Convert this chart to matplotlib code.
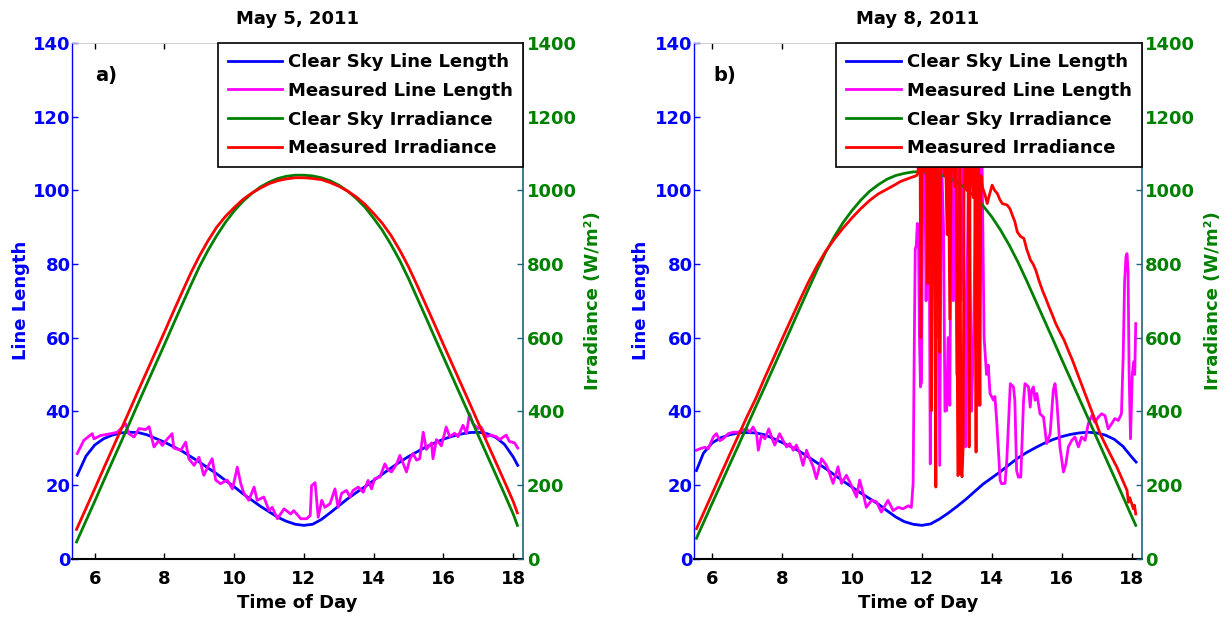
import matplotlib
matplotlib.use("Agg")
import matplotlib.pyplot as plt

plt.rcParams['font.family'] = ['DejaVu Sans']
plt.rcParams['font.weight'] = 'bold'

# ---------------- data: May 5, 2011 ----------------
T5_CLEAR = [5.5, 5.75, 6.0, 6.25, 6.5, 6.75, 7.0, 7.25, 7.5, 7.75,
            8.0, 8.25, 8.5, 8.75, 9.0, 9.25, 9.5, 9.75, 10.0, 10.25,
            10.5, 10.75, 11.0, 11.25, 11.5, 11.75, 12.0, 12.25, 12.5, 12.75,
            13.0, 13.25, 13.5, 13.75, 14.0, 14.25, 14.5, 14.75, 15.0, 15.25,
            15.5, 15.75, 16.0, 16.25, 16.5, 16.75, 17.0, 17.25, 17.5, 17.75,
            18.0, 18.13]
LL5_CLEAR = [22.6, 27.8, 30.8, 32.5, 33.5, 34.1, 34.3, 34.2, 33.6, 32.6,
             31.6, 30.4, 29.2, 27.7, 26.2, 24.6, 23.0, 21.2, 19.5, 17.6,
             15.9, 14.2, 12.7, 11.2, 10.1, 9.3, 9.0, 9.3, 10.6, 12.4,
             14.3, 16.2, 17.9, 19.5, 21.2, 22.9, 24.6, 26.2, 27.7, 29.0,
             30.3, 31.4, 32.4, 33.2, 33.8, 34.2, 34.3, 33.9, 32.9, 31.0,
             27.6, 25.3]

T5_MEAS = [5.50, 5.69, 5.93, 5.98, 6.17, 6.46, 6.65, 6.89, 6.98, 7.13,
           7.27, 7.46, 7.56, 7.70, 7.84, 7.94, 8.04, 8.22, 8.27, 8.47,
           8.61, 8.70, 8.85, 8.99, 9.13, 9.28, 9.37, 9.47, 9.61, 9.80,
           9.95, 10.09, 10.19, 10.28, 10.42, 10.57, 10.66, 10.85, 11.00, 11.09,
           11.24, 11.43, 11.62, 11.71, 11.91, 12.08, 12.18, 12.22, 12.32, 12.41,
           12.51, 12.60, 12.75, 12.89, 12.98, 13.08, 13.22, 13.32, 13.41, 13.56,
           13.70, 13.84, 13.94, 14.03, 14.18, 14.32, 14.42, 14.51, 14.66, 14.75,
           14.85, 14.94, 15.04, 15.13, 15.23, 15.32, 15.42, 15.51, 15.66, 15.70,
           15.80, 15.94, 16.08, 16.18, 16.32, 16.42, 16.56, 16.66, 16.75, 16.85,
           16.99, 17.08, 17.23, 17.37, 17.51, 17.61, 17.80, 17.89, 18.04, 18.13]
LL5_MEAS = [28.5, 32.1, 33.9, 32.5, 33.4, 33.9, 34.3, 36.6, 33.9, 33.0,
            35.3, 35.0, 35.8, 30.3, 32.0, 30.7, 32.0, 33.9, 30.0, 29.4,
            31.6, 27.1, 25.3, 27.5, 22.6, 25.6, 27.1, 21.3, 20.3, 21.3,
            18.9, 24.8, 20.3, 17.7, 15.8, 19.4, 15.8, 16.7, 13.0, 13.9,
            10.8, 13.5, 12.1, 13.0, 10.8, 10.8, 11.7, 19.8, 20.6, 11.2,
            15.8, 13.9, 14.9, 18.9, 13.9, 17.7, 18.5, 16.7, 18.5, 19.4,
            18.0, 21.2, 18.9, 21.7, 22.1, 25.7, 24.0, 23.5, 25.7, 28.0,
            25.7, 23.5, 27.1, 28.5, 26.7, 27.1, 34.3, 29.6, 31.4, 27.1,
            32.3, 30.6, 35.7, 33.1, 34.0, 33.1, 36.2, 34.0, 39.3, 36.6,
            35.3, 35.7, 33.1, 33.5, 33.1, 32.3, 33.5, 31.8, 31.4, 30.0]

T5_IRR = [5.48, 5.75, 6.0, 6.25, 6.5, 6.75, 7.0, 7.25, 7.5, 7.75,
          8.0, 8.25, 8.5, 8.75, 9.0, 9.25, 9.5, 9.75, 10.0, 10.25,
          10.5, 10.75, 11.0, 11.25, 11.5, 11.75, 12.0, 12.25, 12.5, 12.75,
          13.0, 13.25, 13.5, 13.75, 14.0, 14.25, 14.5, 14.75, 15.0, 15.25,
          15.5, 15.75, 16.0, 16.25, 16.5, 16.75, 17.0, 17.25, 17.5, 17.75,
          18.0, 18.12]
IRR5_CLEAR = [45, 102, 155, 209, 262, 315, 368, 422, 475, 528,
              581, 635, 688, 741, 792, 837, 877, 913, 944, 970,
              991, 1009, 1022, 1032, 1038, 1041, 1041, 1039, 1034, 1026,
              1014, 998, 978, 954, 924, 891, 852, 809, 760, 707,
              654, 600, 547, 494, 441, 388, 334, 281, 228, 175,
              121, 90]
IRR5_MEAS = [79, 136, 189, 243, 296, 349, 402, 456, 509, 562,
             615, 669, 722, 774, 821, 863, 900, 929, 953, 975,
             992, 1006, 1018, 1026, 1031, 1034, 1034, 1032, 1029, 1021,
             1011, 998, 982, 962, 937, 910, 877, 837, 792, 741,
             688, 635, 581, 528, 475, 422, 368, 315, 262, 209,
             155, 124]

# ---------------- data: May 8, 2011 ----------------
T8_CLEAR = [5.55, 5.75, 6.0, 6.25, 6.5, 6.75, 7.0, 7.25, 7.5, 7.75,
            8.0, 8.25, 8.5, 8.75, 9.0, 9.25, 9.5, 9.75, 10.0, 10.25,
            10.5, 10.75, 11.0, 11.25, 11.5, 11.75, 12.0, 12.25, 12.5, 12.75,
            13.0, 13.25, 13.5, 13.75, 14.0, 14.25, 14.5, 14.75, 15.0, 15.25,
            15.5, 15.75, 16.0, 16.25, 16.5, 16.75, 17.0, 17.25, 17.5, 17.75,
            18.0, 18.13]
LL8_CLEAR = [23.9, 28.6, 31.4, 32.8, 33.6, 34.1, 34.2, 34.1, 33.6, 32.6,
             31.5, 30.4, 29.1, 27.6, 26.0, 24.4, 22.7, 21.0, 19.4, 17.8,
             16.3, 14.8, 13.0, 11.3, 10.0, 9.3, 9.0, 9.4, 10.7, 12.3,
             14.1, 16.0, 18.1, 20.2, 21.9, 23.6, 25.5, 27.3, 28.8, 30.1,
             31.3, 32.3, 33.1, 33.7, 34.1, 34.3, 34.1, 33.5, 32.4, 30.5,
             27.6, 26.2]

T8_MEAS = [5.55, 5.65, 5.79, 5.89, 6.03, 6.12, 6.22, 6.31, 6.46, 6.60,
           6.75, 6.84, 6.98, 7.08, 7.17, 7.27, 7.32, 7.41, 7.51, 7.62,
           7.72, 7.79, 7.93, 8.03, 8.13, 8.22, 8.32, 8.41, 8.51, 8.60,
           8.70, 8.79, 8.89, 8.98, 9.13, 9.27, 9.36, 9.46, 9.60, 9.70,
           9.84, 9.98, 10.13, 10.22, 10.32, 10.41, 10.56, 10.70, 10.84, 11.03,
           11.18, 11.32, 11.46, 11.61, 11.70, 11.75, 11.78, 11.81, 11.84, 11.87,
           11.90, 11.93, 11.96, 11.99, 12.03, 12.08, 12.12, 12.16, 12.20, 12.24,
           12.27, 12.32, 12.38, 12.42, 12.47, 12.51, 12.56, 12.62, 12.66, 12.71,
           12.75, 12.80, 12.84, 12.90, 12.95, 13.00, 13.05, 13.12, 13.18, 13.25,
           13.30, 13.35, 13.42, 13.48, 13.55, 13.61, 13.66, 13.72, 13.78, 13.85,
           13.90, 13.95, 14.05, 14.09, 14.14, 14.19, 14.24, 14.28, 14.38, 14.43,
           14.53, 14.62, 14.66, 14.71, 14.76, 14.83, 14.91, 14.95, 15.05, 15.10,
           15.14, 15.19, 15.24, 15.29, 15.38, 15.48, 15.57, 15.67, 15.76, 15.81,
           15.86, 15.95, 16.05, 16.12, 16.19, 16.29, 16.38, 16.48, 16.57, 16.67,
           16.76, 16.86, 16.95, 17.05, 17.14, 17.24, 17.33, 17.43, 17.52, 17.62,
           17.71, 17.76, 17.80, 17.84, 17.87, 17.90, 17.93, 17.97, 18.02, 18.06,
           18.09, 18.12]
LL8_MEAS = [29.4, 29.8, 30.2, 29.8, 33.0, 33.9, 32.0, 32.5, 33.9, 34.3,
            34.3, 34.8, 35.2, 34.3, 35.7, 33.9, 29.4, 33.5, 32.5, 35.2,
            32.5, 30.8, 33.9, 32.0, 30.3, 31.2, 29.4, 30.8, 28.5, 25.3,
            29.4, 27.1, 24.9, 21.7, 27.1, 25.3, 23.1, 20.4, 24.9, 20.4,
            22.6, 19.9, 16.7, 21.3, 17.7, 13.9, 15.8, 15.4, 12.6, 15.8,
            13.0, 13.9, 13.5, 14.3, 13.9, 20.4, 55.0, 84.0, 85.0, 91.0,
            90.0, 60.0, 46.6, 48.0, 110.0, 110.0, 70.0, 100.0, 110.0, 25.7,
            80.0, 110.0, 110.0, 60.0, 110.0, 25.3, 110.0, 90.0, 40.0, 40.2,
            60.0, 41.6, 110.0, 70.0, 110.0, 50.0, 110.0, 70.0, 110.0, 30.3,
            80.0, 110.0, 40.0, 60.0, 110.0, 41.6, 110.0, 110.0, 60.0, 50.0,
            52.5, 44.8, 43.0, 44.0, 37.5, 29.4, 21.2, 20.3, 20.4, 26.6,
            47.5, 46.6, 43.0, 23.9, 22.1, 22.1, 43.0, 47.5, 46.6, 41.1,
            45.7, 46.6, 43.0, 44.8, 39.3, 38.4, 31.2, 33.9, 45.7, 47.5,
            43.0, 30.3, 23.5, 25.7, 30.3, 32.1, 33.0, 30.3, 33.0, 32.1,
            36.6, 38.8, 37.0, 38.4, 39.3, 38.8, 35.2, 36.6, 38.0, 37.5,
            39.3, 55.0, 75.0, 82.0, 82.8, 78.0, 50.0, 32.5, 50.0, 53.4,
            50.0, 63.8]

T8_IRR_CLEAR = [5.55, 5.75, 6.0, 6.25, 6.5, 6.75, 7.0, 7.25, 7.5, 7.75,
                8.0, 8.25, 8.5, 8.75, 9.0, 9.25, 9.5, 9.75, 10.0, 10.25,
                10.5, 10.75, 11.0, 11.25, 11.5, 11.75, 12.0, 12.25, 12.5, 12.75,
                13.0, 13.25, 13.5, 13.75, 14.0, 14.25, 14.5, 14.75, 15.0, 15.25,
                15.5, 15.75, 16.0, 16.25, 16.5, 16.75, 17.0, 17.25, 17.5, 17.75,
                18.0, 18.12]
IRR8_CLEAR = [55, 97, 150, 202, 255, 307, 360, 413, 465, 518,
              571, 624, 678, 731, 783, 832, 875, 913, 945, 973,
              997, 1015, 1030, 1040, 1046, 1050, 1050, 1048, 1043, 1035,
              1022, 1005, 984, 958, 928, 892, 851, 805, 754, 701,
              648, 595, 541, 488, 435, 382, 328, 275, 222, 169,
              115, 90]

T8_IRR_MEAS = [5.55, 5.75, 6.0, 6.25, 6.5, 6.75, 7.0, 7.25, 7.5, 7.75,
               8.0, 8.25, 8.5, 8.75, 9.0, 9.25, 9.5, 9.75, 10.0, 10.25,
               10.5, 10.75, 11.0, 11.25, 11.37, 11.5, 11.7, 11.85, 11.88, 11.92,
               11.95, 11.97, 12.00, 12.04, 12.07, 12.11, 12.14, 12.17, 12.20, 12.24,
               12.28, 12.31, 12.36, 12.40, 12.43, 12.47, 12.51, 12.54, 12.60, 12.64,
               12.68, 12.72, 12.76, 12.80, 12.84, 12.90, 12.94, 12.98, 13.03, 13.06,
               13.09, 13.12, 13.15, 13.18, 13.21, 13.25, 13.29, 13.32, 13.35, 13.38,
               13.43, 13.47, 13.51, 13.55, 13.58, 13.62, 13.66, 13.69, 13.73, 13.80,
               13.87, 13.94, 14.01, 14.08, 14.16, 14.23, 14.30, 14.44, 14.52, 14.59,
               14.66, 14.73, 14.82, 14.92, 15.00, 15.11, 15.18, 15.26, 15.35, 15.45,
               15.55, 15.64, 15.74, 15.83, 15.95, 16.07, 16.19, 16.31, 16.50, 16.70,
               16.90, 17.10, 17.30, 17.45, 17.58, 17.70, 17.87, 17.91, 17.95, 18.00,
               18.05, 18.08, 18.12]
IRR8_MEAS = [81, 123, 176, 229, 282, 334, 386, 435, 490, 543,
             596, 648, 700, 750, 795, 835, 868, 898, 925, 950,
             972, 990, 1003, 1016, 1023, 1028, 1035, 1040, 1045, 1085,
             1085, 600, 1085, 1050, 1085, 1085, 1000, 747, 1085, 1085,
             402, 1085, 1085, 194, 1085, 1030, 560, 1085, 1085, 1040,
             1085, 880, 1085, 650, 1085, 1085, 1010, 1085, 225, 230,
             1085, 240, 222, 302, 1085, 1085, 1000, 1085, 303, 1085,
             1085, 980, 1085, 289, 1085, 1085, 416, 1040, 1009, 990,
             964, 990, 1014, 1000, 991, 975, 964, 960, 950, 932,
             915, 887, 875, 869, 840, 810, 800, 783, 755, 728,
             705, 683, 660, 638, 615, 593, 565, 538, 490, 440,
             390, 339, 300, 272, 248, 222, 185, 153, 165, 150,
             135, 145, 121]

XTICKS = [6, 8, 10, 12, 14, 16, 18]
YTICKS_LL = [0, 20, 40, 60, 80, 100, 120, 140]
YTICKS_IRR = [0, 200, 400, 600, 800, 1000, 1200, 1400]
LABELS = ['Clear Sky Line Length', 'Measured Line Length',
          'Clear Sky Irradiance', 'Measured Irradiance']

BLUE = '#0000ff'
MAGENTA = '#ff00ff'
GREEN = '#008000'
RED = '#ff0000'
TEAL = '#24607a'
FS = 13

fig = plt.figure(figsize=(12.28, 6.17), dpi=100)


def panel(rect, xlim, title, tag, tag_x, ylab_left_x, ylab_right_x,
          t_cl, ll_cl, t_ml, ll_ml, t_ci, irr_ci, t_mi, irr_mi):
    ax1 = fig.add_axes(rect)
    ax2 = ax1.twinx()
    h1, = ax1.plot(t_cl, ll_cl, color=BLUE, lw=2)
    h2, = ax1.plot(t_ml, ll_ml, color=MAGENTA, lw=2)
    h3, = ax2.plot(t_ci, irr_ci, color=GREEN, lw=2)
    h4, = ax2.plot(t_mi, irr_mi, color=RED, lw=2)

    ax1.set_xlim(*xlim)
    ax1.set_ylim(0, 140)
    ax2.set_ylim(0, 1400)
    ax1.set_xticks(XTICKS)
    ax1.set_yticks(YTICKS_LL)
    ax2.set_yticks(YTICKS_IRR)

    ax1.tick_params(axis='x', direction='in', length=4, width=1, colors='black',
                    top=True, labelsize=FS, pad=8.5)
    ax1.tick_params(axis='y', direction='in', length=4, width=1, color=BLUE,
                    labelcolor=BLUE, labelsize=FS, pad=1)
    ax2.tick_params(axis='y', direction='in', length=4, width=1, color=TEAL,
                    labelcolor=GREEN, labelsize=FS, pad=2.5)

    ax1.spines['left'].set_color(BLUE)
    ax1.spines['left'].set_linewidth(1.0)
    ax1.spines['right'].set_visible(False)
    ax1.spines['top'].set_color('#c8c8c8')
    ax1.spines['top'].set_linewidth(0.6)
    ax1.spines['bottom'].set_color('black')
    ax1.spines['bottom'].set_linewidth(1.5)
    for s in ('left', 'top', 'bottom'):
        ax2.spines[s].set_visible(False)
    ax2.spines['right'].set_color(TEAL)
    ax2.spines['right'].set_linewidth(1.2)

    ax1.set_title(title, fontsize=FS, fontweight='bold', pad=14)
    ax1.set_xlabel('Time of Day', fontsize=FS, fontweight='bold', labelpad=4)
    ax1.set_ylabel('Line Length', fontsize=FS, fontweight='bold', color=BLUE, va='center')
    ax1.yaxis.set_label_coords(ylab_left_x, 0.5)
    ax2.set_ylabel('Irradiance (W/m²)', fontsize=FS, fontweight='bold', color=GREEN,
                   va='center')
    ax2.yaxis.set_label_coords(ylab_right_x, 0.5)

    ax1.text(tag_x, 0.936, tag, transform=ax1.transAxes, fontsize=14,
             fontweight='bold', ha='left', va='center')

    leg = ax2.legend([h1, h2, h3, h4], LABELS, loc='upper right',
                     bbox_to_anchor=(1.0, 1.0), borderaxespad=0.0,
                     fancybox=False, framealpha=1.0, edgecolor='black',
                     prop={'size': FS, 'weight': 'bold'}, handlelength=3.0,
                     handletextpad=0.35, borderpad=0.55, labelspacing=0.6)
    leg.get_frame().set_linewidth(1.2)
    return ax1, ax2


panel([0.05863, 0.09481, 0.36751, 0.83549], (5.35, 18.29), 'May 5, 2011', 'a)', 0.051,
      -0.1134, 1.1536,
      T5_CLEAR, LL5_CLEAR, T5_MEAS, LL5_MEAS, T5_IRR, IRR5_CLEAR, T5_IRR, IRR5_MEAS)
panel([0.56515, 0.09481, 0.36458, 0.83549], (5.48, 18.29), 'May 8, 2011', 'b)', 0.044,
      -0.119, 1.160,
      T8_CLEAR, LL8_CLEAR, T8_MEAS, LL8_MEAS, T8_IRR_CLEAR, IRR8_CLEAR,
      T8_IRR_MEAS, IRR8_MEAS)

fig.savefig('out.png', dpi=100)
